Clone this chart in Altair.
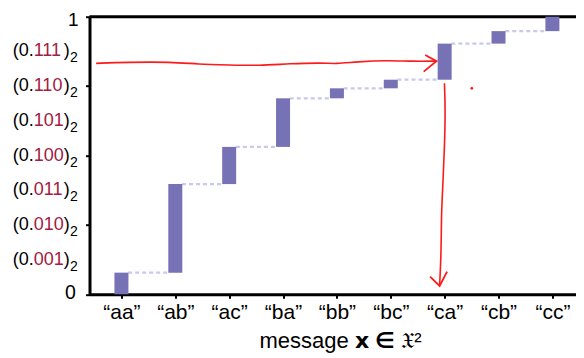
import altair as alt
import pandas as pd

# ---- data ----
categories = ["aa", "ab", "ac", "ba", "bb", "bc", "ca", "cb", "cc"]
probs = [0.078, 0.319, 0.134, 0.175, 0.036, 0.031, 0.130, 0.045, 0.052]

bin_ticks = [0.125, 0.25, 0.375, 0.5, 0.625, 0.75, 0.875]
bin_digits = ["001", "010", "011", "100", "101", "110", "111"]
all_ticks = [0, 0.125, 0.25, 0.375, 0.5, 0.625, 0.75, 0.875, 1]
end_ticks = [0, 1]
end_labels = ["0", "1"]

# hand-drawn red annotation (data coordinates: x = message index, y = cumulative value)
arrow_h_x = [-0.47, 0.098, 0.9375, 1.414, 2.009, 2.545, 3.134, 3.741, 3.973, 4.384, 4.920, 5.402, 5.848]
arrow_h_y = [0.832, 0.836, 0.837, 0.829, 0.826, 0.8235, 0.831, 0.834, 0.8296, 0.838, 0.843, 0.839, 0.840]
head_h_x = [5.639, 5.848, 5.611]
head_h_y = [0.862, 0.840, 0.802]
arrow_v_x = [5.996, 6.014, 5.996, 5.968, 5.9375, 5.9375, 5.907]
arrow_v_y = [0.760, 0.664, 0.520, 0.400, 0.280, 0.160, 0.0335]
head_v_x = [5.729, 5.907, 6.045]
head_v_y = [0.0634, 0.030, 0.0814]
dot_x = [6.504]
dot_y = [0.742]

# ---- tables ----
ends = pd.Series(probs).cumsum().tolist()
starts = [0.0] + ends[:-1]
bars = pd.DataFrame({"i": list(range(len(categories))), "start": starts, "end": ends})

conn = pd.DataFrame({
    "x": [i + 0.125 for i in range(len(categories) - 1)],
    "x2": [i + 0.875 for i in range(len(categories) - 1)],
    "y": ends[:-1],
})

rows = []
for seg, (xs, ys) in enumerate([(arrow_h_x, arrow_h_y), (head_h_x, head_h_y),
                                (arrow_v_x, arrow_v_y), (head_v_x, head_v_y)]):
    for k, (a, b) in enumerate(zip(xs, ys)):
        rows.append({"seg": seg, "ord": k, "x": a, "y": b})
red = pd.DataFrame(rows)
red_smooth = red[red.seg.isin([0, 2])]
red_heads = red[red.seg.isin([1, 3])]
dot = pd.DataFrame({"x": dot_x, "y": dot_y})

labs = pd.DataFrame({"v": bin_ticks, "d": bin_digits})
ends_df = pd.DataFrame({"v": end_ticks, "t": end_labels})
top = pd.DataFrame({"y": [1]})

FONT = "Liberation Sans"
BAR = "#7771b5"
DASH = "#c9c8ee"
REDTXT = "#a2203f"
RED = "#ff1a1a"

PLOT_W = 486.5
STEP = 55.0
xscale = alt.Scale(domain=[-0.5, -0.5 + PLOT_W / STEP], nice=False, zero=False)
yscale = alt.Scale(domain=[0, 1], nice=False, zero=False)

label_expr = "[" + ",".join("'\u201c%s\u201d'" % c for c in categories) + "][datum.value]"

x_axis = alt.Axis(values=list(range(len(categories))), labelExpr=label_expr,
                  title="message \U0001D605 \u2208 \U0001D51B\u00b2", labelFontSize=21,
                  labelPadding=3, titleFontSize=22, titlePadding=8, titleFontWeight="normal",
                  titleX=250.5, titleAnchor="middle")
y_axis = alt.Axis(values=all_ticks, labels=False, title=None)

base_conn = alt.Chart(conn).mark_rule(color=DASH, strokeWidth=2.2, strokeDash=[4, 3]).encode(
    x=alt.X("x:Q", scale=xscale, axis=x_axis),
    x2="x2:Q",
    y=alt.Y("y:Q", scale=yscale, axis=y_axis),
)

top_frame = alt.Chart(top).mark_rule(color="black", strokeWidth=3).encode(
    y=alt.Y("y:Q", scale=yscale),
)

bar_layer = alt.Chart(bars).mark_bar(width=14, color=BAR).encode(
    x=alt.X("i:Q", scale=xscale),
    y=alt.Y("start:Q", scale=yscale),
    y2="end:Q",
)

red_lines = alt.Chart(red_smooth).mark_line(color=RED, strokeWidth=1.6, interpolate="basis").encode(
    x=alt.X("x:Q", scale=xscale),
    y=alt.Y("y:Q", scale=yscale),
    detail="seg:N",
    order="ord:Q",
)
red_head_lines = alt.Chart(red_heads).mark_line(color=RED, strokeWidth=1.8).encode(
    x=alt.X("x:Q", scale=xscale),
    y=alt.Y("y:Q", scale=yscale),
    detail="seg:N",
    order="ord:Q",
)
red_dot = alt.Chart(dot).mark_circle(color=RED, size=8, opacity=1).encode(
    x=alt.X("x:Q", scale=xscale),
    y=alt.Y("y:Q", scale=yscale),
)

def part(text_value=None, field=None, xpix=0, color="black", size=18, dy=0):
    enc = dict(y=alt.Y("v:Q", scale=yscale), x=alt.value(xpix))
    if field:
        enc["text"] = alt.Text(field + ":N")
    else:
        enc["text"] = alt.value(text_value)
    return alt.Chart(labs).mark_text(align="left", baseline="middle", font=FONT,
                                     fontSize=size, color=color, dy=dy).encode(**enc)

t1 = part("(0.", xpix=-76.8)
t2 = part(field="d", xpix=-55.8, color=REDTXT)
t3 = part(")", xpix=-25.8)
t4 = part("2", xpix=-19.5, size=14, dy=7)

# "0" and "1" end labels
end_0 = alt.Chart(ends_df[ends_df.v == 0]).mark_text(
    align="right", baseline="alphabetic", font=FONT, fontSize=19.5, color="black", dy=4.7
).encode(y=alt.Y("v:Q", scale=yscale), x=alt.value(-13.7), text="t:N")
end_1 = alt.Chart(ends_df[ends_df.v == 1]).mark_text(
    align="right", baseline="alphabetic", font=FONT, fontSize=19, color="black", dy=8.8
).encode(y=alt.Y("v:Q", scale=yscale), x=alt.value(-11), text="t:N")

chart = alt.layer(base_conn, top_frame, bar_layer, red_lines, red_head_lines, red_dot,
                  t1, t2, t3, t4, end_0, end_1).properties(
    width=PLOT_W, height=277.6,
    autosize=alt.AutoSizeParams(type="none"),
    padding={"left": 81.5, "top": 8.7, "right": 0, "bottom": 59.7},
).configure_axis(
    domainColor="black", domainWidth=3, tickColor="black", tickWidth=2, tickSize=4,
    grid=False, labelFont=FONT, titleFont=FONT, labelColor="black", titleColor="black",
).configure_view(stroke=None)

chart.save("out.html", embed_options={"renderer": "svg", "actions": False})
